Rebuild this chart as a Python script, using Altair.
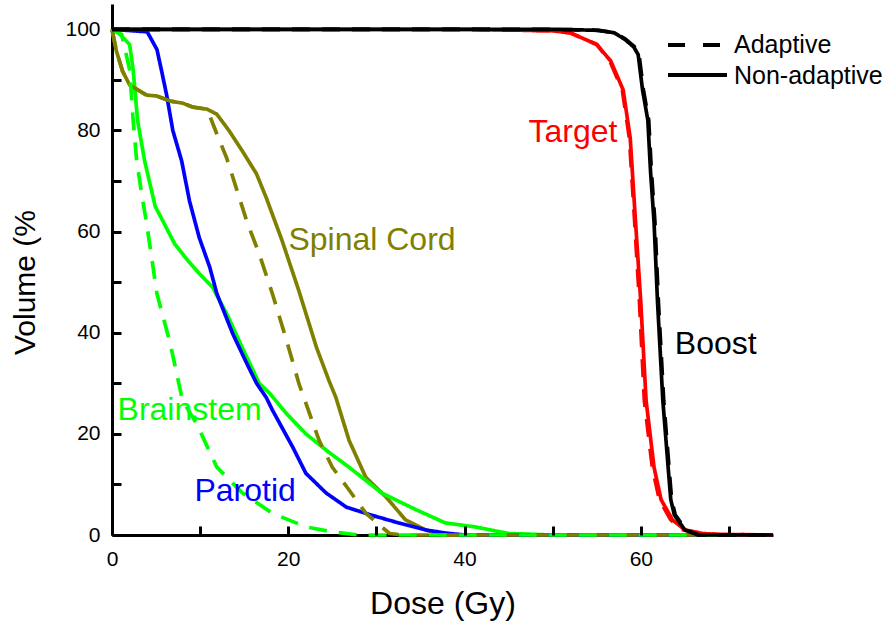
import altair as alt
import pandas as pd

# ---- data ----
target_na_dose = [0, 40, 50, 52, 55, 56.6, 58.0, 58.8, 59.4, 60.0, 60.6, 61.5, 62.3, 63.6, 65.0, 67, 69, 75]
target_na_vol = [100, 100, 99.7, 99.3, 97, 93.7, 88, 78.5, 62, 46, 26.6, 13.4, 7, 3, 1, 0.3, 0.1, 0]
target_a_dose = [0, 40, 50, 52, 55, 56.5, 57.9, 58.7, 59.3, 59.85, 60.4, 61.3, 62.1, 63.4, 64.8, 67, 69, 75]
target_a_vol = [100, 100, 99.7, 99.3, 97, 93.7, 88, 78.5, 62, 46, 26.6, 13.4, 7, 3, 1, 0.3, 0.1, 0]

boost_na_dose = [0, 50, 55.1, 57.0, 58.2, 59.2, 59.7, 60.2, 60.8, 61.1, 61.5, 61.9, 62.5, 63.1, 63.4, 63.8, 65.0, 66.5, 75]
boost_na_vol = [100, 100, 99.8, 99.3, 98, 96.5, 95, 88, 82, 72, 62, 46, 26.6, 13.4, 7, 4, 1, 0, 0]
boost_a_dose = [0, 50, 55.2, 57.1, 58.3, 59.3, 59.8, 60.3, 60.9, 61.2, 61.6, 62.0, 62.6, 63.2, 63.5, 63.9, 65.1, 66.6, 75]
boost_a_vol = [100, 100, 99.8, 99.3, 98, 96.5, 95, 88, 82, 72, 62, 46, 26.6, 13.4, 7, 4, 1, 0, 0]

brainstem_na_dose = [0, 0.9, 2.0, 2.4, 2.9, 3.7, 4.9, 5.8, 7.1, 8.5, 9.9, 11.4, 13.0, 14.8, 16.7, 17.9, 19.8, 22, 24.5, 26.9, 30.6, 34.5, 37.8, 41.2, 45, 50, 75]
brainstem_na_vol = [100, 99, 97, 92, 82, 74, 65, 62, 57.6, 54.5, 51.7, 49, 43.8, 37, 30, 28, 24, 20, 16.5, 13.4, 8.3, 5, 2.4, 1.6, 0.3, 0, 0]
brainstem_a_dose = [0, 1.1, 2.0, 2.4, 2.8, 3.5, 3.9, 5.1, 6.6, 8.0, 9.6, 11.9, 14.8, 18.2, 22, 25, 28, 75]
brainstem_a_vol = [100, 99, 92, 82, 74, 66, 62, 47.7, 37.9, 26.6, 22, 13.4, 8.3, 4.3, 1.6, 0.6, 0, 0]

parotid_na_dose = [0, 4.0, 5.1, 5.6, 6.2, 6.9, 7.9, 8.8, 9.9, 11.1, 11.9, 13.7, 15.3, 16.4, 17.5, 18.2, 20.5, 22, 24.3, 26.6, 29.5, 32.5, 35.6, 37.8, 40, 75]
parotid_na_vol = [100, 99.5, 96, 92, 87, 80, 74, 66, 58.8, 52.9, 47.7, 39.8, 33.9, 30, 27.2, 24.7, 17.4, 12.2, 8.3, 5.5, 3.9, 2.4, 1, 0.4, 0, 0]

spinal_na_dose = [0, 0.5, 1.2, 2.0, 3.9, 5.1, 6.6, 8.0, 9.2, 10.8, 11.9, 13.3, 14.8, 16.4, 17.5, 19.3, 21.2, 23.2, 24.6, 25.4, 26.9, 28.8, 31.1, 33.3, 35.6, 37.5, 75]
spinal_na_vol = [100, 95.7, 91.7, 89, 87, 86.8, 85.8, 85.4, 84.6, 84.2, 83.2, 79.9, 75.9, 71.4, 66.7, 58.2, 48.3, 37.1, 30.6, 27.2, 18.7, 11.4, 7.5, 3, 1, 0, 0]
spinal_a_dose = [0, 0.5, 1.2, 2.0, 3.9, 5.1, 6.6, 8.0, 9.2, 10.8, 11.9, 13.0, 14.1, 15.3, 16.7, 18.2, 19.8, 21.2, 23.5, 25, 26.9, 28.8, 30.6, 31.5, 33, 75]
spinal_a_vol = [100, 95.7, 91.7, 89, 87, 86.8, 85.8, 85.4, 84.6, 84.2, 79.3, 74.6, 68.6, 62, 55.6, 47.7, 38.5, 30, 18.7, 13.4, 8.9, 4.3, 1.6, 0.3, 0, 0]

organs = ["Target", "Boost", "Spinal Cord", "Brainstem", "Parotid"]
organ_colors = ["#FF0000", "#000000", "#808000", "#00FF00", "#0000FF"]

label_text = ["Target", "Boost", "Spinal Cord", "Brainstem", "Parotid"]
label_dose = [52.3, 68.5, 29.5, 8.8, 15.1]
label_vol = [79.6, 37.8, 58.4, 24.8, 8.7]

x_ticks = [0, 10, 20, 30, 40, 50, 60, 70]
y_ticks = [0, 10, 20, 30, 40, 50, 60, 70, 80, 90, 100]
x_labels = [0, 20, 40, 60]
y_labels = [0, 20, 40, 60, 80, 100]
legend_labels = ["Adaptive", "Non-adaptive"]

FONT = "Liberation Sans"
W, H = 661, 531
XMAX, YMAX = 75, 105
TICK_PX = 9

# ---- build table ----
curves = [
    ("spinal_na", "Spinal Cord", "Non-adaptive", spinal_na_dose, spinal_na_vol),
    ("brainstem_na", "Brainstem", "Non-adaptive", brainstem_na_dose, brainstem_na_vol),
    ("parotid_na", "Parotid", "Non-adaptive", parotid_na_dose, parotid_na_vol),
    ("spinal_a", "Spinal Cord", "Adaptive", spinal_a_dose, spinal_a_vol),
    ("brainstem_a", "Brainstem", "Adaptive", brainstem_a_dose, brainstem_a_vol),
    ("target_na", "Target", "Non-adaptive", target_na_dose, target_na_vol),
    ("target_a", "Target", "Adaptive", target_a_dose, target_a_vol),
    ("boost_na", "Boost", "Non-adaptive", boost_na_dose, boost_na_vol),
    ("boost_a", "Boost", "Adaptive", boost_a_dose, boost_a_vol),
]
rows = []
for cid, organ, plan, ds, vs in curves:
    for d, v in zip(ds, vs):
        rows.append({"curve": cid, "organ": organ, "plan": plan, "dose": d, "volume": v})
df = pd.DataFrame(rows)

xscale = alt.Scale(domain=[0, XMAX], nice=False, zero=False)
yscale = alt.Scale(domain=[0, YMAX], nice=False, zero=False)

x_main = alt.X("dose:Q", scale=xscale, title="Dose (Gy)",
               axis=alt.Axis(values=x_labels, titleY=68, titleBaseline="middle"))
y_main = alt.Y("volume:Q", scale=yscale, title="Volume (%",
               axis=alt.Axis(values=y_labels, titleX=-87, titleY=278, titleAngle=-90,
                             titleAlign="center", titleBaseline="middle", titleFontSize=30))
color_enc = alt.Color("organ:N", scale=alt.Scale(domain=organs, range=organ_colors), legend=None)
dash_enc = alt.StrokeDash("plan:N", scale=alt.Scale(domain=legend_labels, range=[[18, 12], [1, 0]]), legend=None)

layers = []
for cid, organ, plan, ds, vs in curves:
    layers.append(
        alt.Chart(df).transform_filter(alt.datum.curve == cid)
        .mark_line(strokeWidth=3.7, strokeCap="butt", strokeJoin="round")
        .encode(x=x_main, y=y_main, color=color_enc, strokeDash=dash_enc, order="dose:Q")
    )

# curve labels
labels_df = pd.DataFrame({"text": label_text, "organ": label_text, "dose": label_dose, "volume": label_vol})
lab = alt.Chart(labels_df).mark_text(font=FONT, fontSize=32, align="center", baseline="middle").encode(
    x=x_main, y=y_main, text="text:N", color=color_enc)

# manual legend
leg_df = pd.DataFrame({"label": legend_labels})
leg_dash = alt.Chart(leg_df).transform_filter(alt.datum.label == "Adaptive").mark_rule(
    color="black", strokeWidth=4, strokeDash=[17, 18]).encode(
    x=alt.value(556), x2=alt.value(610), y=alt.value(41))
leg_solid = alt.Chart(leg_df).transform_filter(alt.datum.label == "Non-adaptive").mark_rule(
    color="black", strokeWidth=4).encode(
    x=alt.value(556), x2=alt.value(615), y=alt.value(71))
leg_t1 = alt.Chart(leg_df).transform_filter(alt.datum.label == "Adaptive").mark_text(
    font=FONT, fontSize=25, align="left", baseline="middle", color="black").encode(
    x=alt.value(622), y=alt.value(41), text="label:N")
leg_t2 = alt.Chart(leg_df).transform_filter(alt.datum.label == "Non-adaptive").mark_text(
    font=FONT, fontSize=25, align="left", baseline="middle", color="black").encode(
    x=alt.value(622), y=alt.value(72), text="label:N")

inner = alt.layer(*layers, lab, leg_dash, leg_solid, leg_t1, leg_t2)

# inward ticks: a second pair of axes (top / right) pulled back onto the plot edges,
# whose outward ticks therefore point into the plot
tick_df = df[df["curve"] == "boost_na"]
tick_axes = alt.Chart(tick_df).mark_point(opacity=0).encode(
    x=alt.X("dose:Q", scale=xscale, title="", axis=alt.Axis(
        orient="top", offset=-H, values=x_ticks, ticks=True, tickSize=TICK_PX, tickWidth=3,
        tickColor="black", labels=False, domain=False, zindex=1)),
    y=alt.Y("volume:Q", scale=yscale, title="", axis=alt.Axis(
        orient="right", offset=-W, values=y_ticks, ticks=True, tickSize=TICK_PX, tickWidth=3,
        tickColor="black", labels=False, domain=False, zindex=1)),
)

chart = alt.layer(inner, tick_axes).resolve_axis(x="independent", y="independent").properties(
    width=W, height=H,
    autosize=alt.AutoSizeParams(type="none"),
    padding={"left": 112, "top": 4, "right": 114, "bottom": 90},
).configure_view(
    strokeWidth=0
).configure_axis(
    ticks=False, grid=False, domainColor="black", domainWidth=3,
    labelFont=FONT, labelFontSize=21, labelColor="black", labelFlush=False,
    titleFont=FONT, titleFontSize=32, titleFontWeight="normal", titleColor="black"
).configure_axisX(
    labelPadding=13
).configure_axisY(
    labelPadding=12
)

chart.save("out.html", embed_options={"renderer": "svg", "actions": False})
